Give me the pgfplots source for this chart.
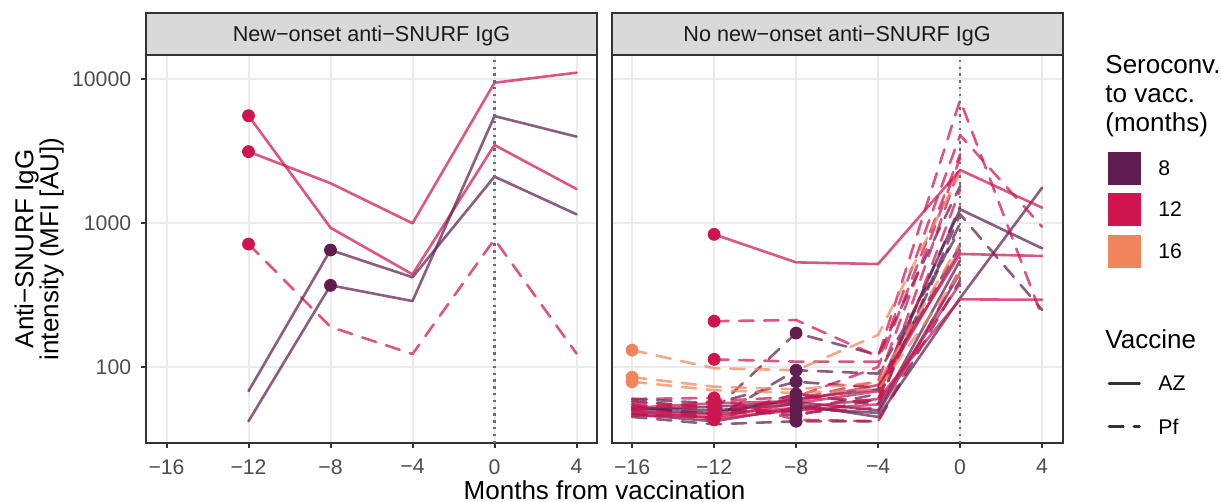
\documentclass[border=0pt]{standalone}
\usepackage{pgfplots}
\pgfplotsset{compat=1.18}
\usepackage{fontspec}
\setmainfont{Liberation Sans}
\definecolor{c8}{HTML}{601E50}
\definecolor{c12}{HTML}{CF1550}
\definecolor{c16}{HTML}{F0855C}
\definecolor{grey10}{HTML}{1A1A1A}
\definecolor{grey20}{HTML}{333333}
\definecolor{grey30}{HTML}{4D4D4D}
\definecolor{gridc}{HTML}{EBEBEB}
\definecolor{stripc}{HTML}{D9D9D9}
\definecolor{vlinec}{HTML}{6E6E6E}
\tikzset{
 AZ/.style={line width=1.3pt, draw opacity=0.72, line cap=round, line join=round},
 PF/.style={AZ, dash pattern=on 7.2pt off 5.3pt},
}
\pgfplotsset{panel/.style={
  scale only axis, width=225.5pt, height=194pt, anchor=south west,
  xmin=-17, xmax=5, ymin=29.67, ymax=14678,
  xtick={-16,-12,-8,-4,0,4}, xticklabels={−16,−12,−8,−4,0,4},
  ytick={100,1000,10000}, yminorticks=false, xminorticks=false,
  grid=major, major grid style={draw=gridc, line width=1pt},
  axis line style={draw=grey20, line width=1pt},
  tick align=outside, tick pos=left, major tick length=2.75pt,
  tick style={draw=grey20, line width=1pt},
  tick label style={font=\fontsize{10.6}{12}\selectfont, text=grey30, inner sep=0pt},
  xticklabel style={anchor=north, yshift=-5.2pt},
  yticklabel style={anchor=east, xshift=-4.5pt},
}}
\begin{document}
\begin{tikzpicture}
\useasboundingbox (0,0) rectangle (610.5pt,251pt);
% ---------------- left panel
\begin{semilogyaxis}[panel, at={(73pt,29.5pt)}, yticklabels={100,1000,10000}]
\addplot[AZ, c12] coordinates {(-12,5560) (-8,927) (-4,440) (0,3480) (4,1722)};
\addplot[AZ, c12] coordinates {(-12,3130) (-8,1889) (-4,996) (0,9420) (4,11060)};
\addplot[PF, c12] coordinates {(-12,714) (-8,190) (-4,123) (0,771) (4,124)};
\addplot[AZ, c8] coordinates {(-12,68) (-8,649) (-4,420) (0,2100) (4,1149)};
\addplot[AZ, c8] coordinates {(-12,42) (-8,369) (-4,287) (0,5530) (4,3980)};
\addplot[vlinec, line width=1.2pt, dash pattern=on 1.2pt off 2.2pt] coordinates {(0,29.67) (0,14678)};
\addplot[only marks, mark=*, mark size=3pt, c12] coordinates {(-12,5560) (-12,3130) (-12,714)};
\addplot[only marks, mark=*, mark size=3pt, c8] coordinates {(-8,649) (-8,369)};
\end{semilogyaxis}
% ---------------- right panel
\begin{semilogyaxis}[panel, at={(305.8pt,29.5pt)}, yticklabels={}, ytick style={draw=none}]
% purple (8)
\addplot[AZ, c8] coordinates {(-16,50) (-12,48) (-8,60) (-4,70) (0,1245) (4,667)};
\addplot[PF, c8] coordinates {(-16,47) (-12,45) (-8,65) (-4,55) (0,1150) (4,249)};
\addplot[AZ, c8] coordinates {(-16,52) (-12,50) (-8,55) (-4,45) (0,301) (4,1758)};
\addplot[PF, c8] coordinates {(-12,50) (-8,172) (-4,121) (0,1800)};
\addplot[PF, c8] coordinates {(-16,55) (-12,44) (-8,95) (-4,90) (0,900)};
\addplot[PF, c8] coordinates {(-16,60) (-12,56) (-8,79) (-4,72) (0,700)};
\addplot[AZ, c8] coordinates {(-16,47) (-12,42) (-8,52) (-4,48) (0,450)};
\addplot[PF, c8] coordinates {(-16,45) (-12,40) (-8,42) (-4,42) (0,400)};
\addplot[PF, c8] coordinates {(-16,53) (-12,47) (-8,50) (-4,65) (0,1300)};
\addplot[PF, c8] coordinates {(-16,58) (-12,52) (-8,46) (-4,60) (0,1000)};
\addplot[AZ, c8] coordinates {(-16,51) (-12,53) (-8,57) (-4,50) (0,550)};
% crimson (12)
\addplot[AZ, c12] coordinates {(-12,834) (-8,533) (-4,519) (0,2335) (4,1277)};
\addplot[PF, c12] coordinates {(-12,208) (-8,212) (-4,118) (0,7140) (4,223)};
\addplot[PF, c12] coordinates {(-12,113) (-8,109) (-4,109) (0,4080) (4,942)};
\addplot[PF, c12] coordinates {(-16,55) (-12,50) (-8,60) (-4,80) (0,2830)};
\addplot[AZ, c12] coordinates {(-16,52) (-12,56) (-8,58) (-4,75) (0,610) (4,590)};
\addplot[AZ, c12] coordinates {(-16,48) (-12,47) (-8,52) (-4,60) (0,295) (4,293)};
\addplot[PF, c12] coordinates {(-16,50) (-12,58) (-8,62) (-4,58) (0,2500)};
\addplot[AZ, c12] coordinates {(-16,46) (-12,45) (-8,56) (-4,68) (0,650)};
\addplot[PF, c12] coordinates {(-16,57) (-12,53) (-8,48) (-4,52) (0,1700)};
\addplot[PF, c12] coordinates {(-16,60) (-12,61) (-8,43) (-4,42) (0,480)};
\addplot[AZ, c12] coordinates {(-16,49) (-12,44) (-8,50) (-4,55) (0,380)};
\addplot[PF, c12] coordinates {(-16,53) (-12,43) (-8,62) (-4,100) (0,3000)};
% salmon (16)
\addplot[PF, c16] coordinates {(-16,131) (-12,98) (-8,95) (-4,167) (0,2230)};
\addplot[PF, c16] coordinates {(-16,85) (-12,73) (-8,70) (-4,78) (0,720)};
\addplot[PF, c16] coordinates {(-16,79) (-12,69) (-8,66) (-4,70) (0,450)};
\addplot[vlinec, line width=1.2pt, dash pattern=on 1.2pt off 2.2pt] coordinates {(0,29.67) (0,14678)};
\addplot[only marks, mark=*, mark size=3pt, c16] coordinates {(-16,131) (-16,85) (-16,79)};
\addplot[only marks, mark=*, mark size=3pt, c12] coordinates {(-12,834) (-12,208) (-12,113) (-12,50) (-12,56) (-12,47) (-12,58) (-12,45) (-12,53) (-12,61) (-12,44) (-12,43)};
\addplot[only marks, mark=*, mark size=3pt, c8] coordinates {(-8,60) (-8,65) (-8,55) (-8,172) (-8,95) (-8,79) (-8,52) (-8,42) (-8,50) (-8,46) (-8,57)};
\end{semilogyaxis}
% ---------------- strips
\draw[fill=stripc, draw=grey20, line width=1pt] (73pt,223.5pt) rectangle (298.5pt,244.5pt);
\draw[fill=stripc, draw=grey20, line width=1pt] (305.8pt,223.5pt) rectangle (531.3pt,244.5pt);
\node[anchor=base, inner sep=0pt, font=\fontsize{10.8}{12}\selectfont, text=grey10] at (185.75pt,230.4pt) {New−onset anti−SNURF IgG};
\node[anchor=base, inner sep=0pt, font=\fontsize{10.8}{12}\selectfont, text=grey10] at (418.55pt,230.4pt) {No new−onset anti−SNURF IgG};
% ---------------- axis titles
\node[rotate=90, anchor=base, inner sep=0pt, font=\fontsize{13}{15}\selectfont] at (16.7pt,126.5pt) {Anti−SNURF IgG};
\node[rotate=90, anchor=base, inner sep=0pt, font=\fontsize{13}{15}\selectfont] at (29.2pt,126.5pt) {intensity (MFI [AU])};
\node[anchor=base, inner sep=0pt, font=\fontsize{13}{15}\selectfont] at (302.3pt,1.4pt) {Months from vaccination};
% ---------------- legend
\node[anchor=base west, inner sep=0pt, font=\fontsize{13}{15}\selectfont] at (552.5pt,214.3pt) {Seroconv.};
\node[anchor=base west, inner sep=0pt, font=\fontsize{13}{15}\selectfont] at (552.5pt,199.8pt) {to vacc.};
\node[anchor=base west, inner sep=0pt, font=\fontsize{13}{15}\selectfont] at (552.5pt,185.3pt) {(months)};
\fill[c8] (553.85pt,158.5pt) rectangle (570.5pt,174.85pt);
\fill[c12] (553.85pt,138pt) rectangle (570.5pt,154.35pt);
\fill[c16] (553.85pt,116.85pt) rectangle (570.5pt,133.5pt);
\node[anchor=west, inner sep=0pt, font=\fontsize{10.6}{12}\selectfont] at (579pt,166.7pt) {8};
\node[anchor=west, inner sep=0pt, font=\fontsize{10.6}{12}\selectfont] at (579pt,146.2pt) {12};
\node[anchor=west, inner sep=0pt, font=\fontsize{10.6}{12}\selectfont] at (579pt,125.2pt) {16};
\node[anchor=base west, inner sep=0pt, font=\fontsize{13}{15}\selectfont] at (552.5pt,76.8pt) {Vaccine};
\draw[grey20, line width=1.3pt, line cap=round] (554.5pt,59.35pt) -- (569.8pt,59.35pt);
\draw[grey20, line width=1.3pt, line cap=round, dash pattern=on 7.2pt off 5.3pt] (554.5pt,37.65pt) -- (569.8pt,37.65pt);
\node[anchor=west, inner sep=0pt, font=\fontsize{10.6}{12}\selectfont] at (579pt,59.35pt) {AZ};
\node[anchor=west, inner sep=0pt, font=\fontsize{10.6}{12}\selectfont] at (579pt,37.65pt) {Pf};
\end{tikzpicture}
\end{document}
